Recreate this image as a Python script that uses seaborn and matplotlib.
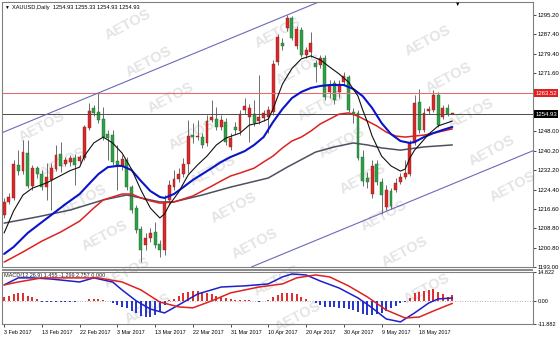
import matplotlib
matplotlib.use("Agg")
import numpy as np
import pandas as pd
import matplotlib.pyplot as plt
import matplotlib.transforms as mtransforms
from matplotlib.patches import Rectangle
import seaborn as sns

# ---------------- data ----------------
open_ = [1214.1, 1219.4, 1221.0, 1234.4, 1231.9, 1239.2, 1225.8, 1233.1, 1230.7, 1225.4,
         1228.3, 1232.7, 1238.8, 1234.8, 1235.6, 1237.2, 1236.0, 1237.2, 1249.4, 1257.5,
         1255.9, 1253.0, 1246.9, 1246.5, 1236.0, 1234.0, 1236.4, 1225.4, 1216.9, 1208.4,
         1201.9, 1204.8, 1207.2, 1202.3, 1199.9, 1220.2, 1225.4, 1228.7, 1230.7, 1234.8,
         1246.5, 1245.7, 1245.7, 1243.3, 1252.6, 1253.0, 1249.8, 1251.8, 1241.7, 1249.8,
         1248.2, 1256.7, 1253.8, 1255.0, 1252.2, 1253.4, 1253.8, 1255.9, 1276.1, 1283.8,
         1289.9, 1294.0, 1282.6, 1289.1, 1279.0, 1280.2, 1275.7, 1274.9, 1277.8, 1264.0,
         1267.6, 1264.0, 1268.0, 1270.0, 1255.9, 1255.5, 1237.6, 1229.1, 1222.6, 1234.8,
         1227.5, 1217.3, 1223.8, 1224.2, 1227.5, 1229.5, 1230.7, 1243.3, 1259.9, 1248.6,
         1256.3, 1256.7, 1262.8, 1253.8, 1257.5, 1254.93]
high = [1221.0, 1223.0, 1236.4, 1240.4, 1244.5, 1244.5, 1234.4, 1234.0, 1232.3, 1235.2,
        1235.2, 1242.5, 1243.7, 1237.6, 1238.4, 1238.8, 1238.4, 1250.6, 1259.5, 1258.7,
        1263.6, 1257.9, 1248.6, 1248.6, 1242.5, 1238.4, 1237.6, 1226.2, 1218.1, 1209.6,
        1206.8, 1208.8, 1211.2, 1203.9, 1222.2, 1228.3, 1232.3, 1233.1, 1237.2, 1252.6,
        1251.4, 1252.6, 1247.3, 1254.6, 1260.7, 1257.9, 1254.6, 1253.4, 1247.3, 1251.8,
        1256.7, 1261.5, 1259.1, 1260.7, 1270.9, 1256.7, 1258.3, 1276.9, 1287.5, 1285.9,
        1295.2, 1294.8, 1290.7, 1290.3, 1282.2, 1288.3, 1276.9, 1279.0, 1279.0, 1268.8,
        1268.8, 1268.8, 1272.1, 1270.9, 1257.5, 1256.7, 1240.4, 1231.5, 1236.4, 1236.4,
        1229.1, 1226.2, 1225.0, 1229.1, 1231.1, 1236.4, 1244.5, 1262.8, 1265.2, 1257.5,
        1258.3, 1264.8, 1264.0, 1258.7, 1259.1, 1255.33]
low = [1212.9, 1218.5, 1220.2, 1230.3, 1230.7, 1225.0, 1224.2, 1229.1, 1224.2, 1220.2,
       1216.1, 1231.9, 1231.5, 1234.0, 1234.0, 1226.2, 1235.2, 1236.4, 1248.6, 1254.2,
       1251.4, 1244.5, 1236.4, 1234.4, 1224.2, 1232.3, 1224.2, 1214.9, 1206.8, 1195.0,
       1199.9, 1203.1, 1200.7, 1197.0, 1197.9, 1218.1, 1224.2, 1227.5, 1229.5, 1231.1,
       1243.3, 1244.5, 1241.3, 1242.1, 1251.8, 1248.6, 1248.6, 1242.5, 1240.4, 1246.9,
       1246.5, 1255.0, 1243.7, 1250.2, 1251.0, 1252.2, 1247.3, 1254.6, 1274.9, 1281.0,
       1288.7, 1285.1, 1281.4, 1278.2, 1277.8, 1278.2, 1268.0, 1273.7, 1260.7, 1261.5,
       1259.1, 1261.5, 1266.8, 1255.9, 1251.4, 1236.4, 1225.8, 1225.0, 1221.0, 1226.2,
       1214.5, 1216.1, 1216.5, 1223.4, 1226.7, 1228.7, 1229.9, 1242.5, 1247.3, 1247.7,
       1255.0, 1255.9, 1249.8, 1253.0, 1254.2, 1254.93]
close = [1219.4, 1221.4, 1234.8, 1231.9, 1239.6, 1225.8, 1233.1, 1230.7, 1225.4, 1229.5,
         1233.1, 1238.4, 1234.0, 1236.4, 1237.2, 1234.4, 1237.6, 1249.8, 1256.3, 1255.5,
         1252.6, 1245.7, 1245.3, 1235.6, 1234.4, 1236.8, 1225.4, 1216.1, 1208.0, 1199.9,
         1204.8, 1206.8, 1201.9, 1199.9, 1218.9, 1226.2, 1228.7, 1230.7, 1234.8, 1246.1,
         1245.7, 1246.1, 1242.5, 1252.2, 1253.8, 1249.8, 1252.6, 1243.7, 1245.3, 1248.6,
         1255.0, 1258.3, 1257.5, 1251.4, 1253.8, 1255.5, 1256.7, 1275.3, 1286.3, 1282.6,
         1294.0, 1285.9, 1289.5, 1279.0, 1281.0, 1283.8, 1274.1, 1277.8, 1261.9, 1266.8,
         1260.7, 1267.2, 1270.5, 1256.7, 1254.6, 1237.2, 1227.9, 1227.5, 1234.0, 1227.5,
         1222.2, 1224.2, 1217.7, 1227.1, 1229.5, 1231.1, 1243.3, 1259.5, 1248.6, 1255.5,
         1257.1, 1262.8, 1250.6, 1257.5, 1254.93, 1254.93]

# moving averages (bar index, price)
ma_fast_bar = [0, 1, 2, 4, 6, 9, 11, 14, 16, 17, 19, 21, 23, 25, 27, 29, 31, 33, 34, 35,
               37, 39, 41, 43, 45, 47, 50, 52, 54, 56, 57, 59, 61, 63, 65, 67, 69, 71, 73, 75,
               76, 77, 78, 80, 82, 84, 85, 86, 87, 88, 90, 92, 95]
ma_fast_val = [1206.8, 1211.2, 1215.7, 1222.2, 1225.0, 1227.1, 1229.1, 1232.1, 1233.5, 1238.0,
               1243.3, 1245.7, 1243.3, 1239.2, 1232.7, 1224.2, 1216.9, 1212.9, 1214.5, 1218.1,
               1223.4, 1230.3, 1234.4, 1238.0, 1242.5, 1245.3, 1247.3, 1250.6, 1251.4, 1253.0,
               1257.1, 1267.2, 1273.5, 1277.4, 1278.6, 1277.0, 1274.1, 1271.3, 1268.0, 1262.3,
               1256.7, 1251.8, 1246.1, 1238.0, 1234.0, 1231.9, 1232.7, 1237.2, 1240.4, 1242.5,
               1246.9, 1250.2, 1252.2]
ma_mid_bar = [0, 2, 5, 8, 10, 13, 16, 18, 20, 22, 24, 25, 27, 29, 31, 33, 34, 36, 38, 40,
              42, 44, 46, 48, 51, 53, 55, 57, 59, 61, 63, 65, 67, 69, 72, 74, 76, 78, 80, 82,
              84, 86, 87, 89, 91, 93, 95]
ma_mid_val = [1198.3, 1201.1, 1206.8, 1211.2, 1214.1, 1218.5, 1222.6, 1226.7, 1230.7, 1233.5,
              1234.0, 1234.0, 1232.3, 1227.9, 1223.8, 1221.4, 1221.0, 1222.6, 1225.4, 1228.3,
              1230.7, 1233.1, 1235.6, 1237.6, 1240.0, 1242.5, 1245.7, 1251.8, 1257.1, 1261.5,
              1264.0, 1265.6, 1266.4, 1266.8, 1266.8, 1265.2, 1262.3, 1257.5, 1251.4, 1246.9,
              1244.1, 1243.3, 1243.7, 1245.7, 1247.3, 1248.6, 1249.8]
ma_slow_bar = [0, 4, 8, 12, 16, 19, 21, 23, 25, 27, 29, 31, 33, 36, 38, 40, 42, 44, 46, 48,
               50, 53, 55, 57, 59, 61, 63, 65, 67, 69, 71, 73, 75, 77, 79, 81, 83, 85, 87, 89,
               91, 95]
ma_slow_val = [1195.0, 1199.1, 1203.5, 1207.2, 1211.6, 1216.9, 1220.2, 1221.4, 1222.6, 1222.6,
               1221.0, 1219.8, 1218.9, 1219.4, 1220.6, 1221.8, 1223.8, 1225.8, 1227.9, 1229.9,
               1231.1, 1233.1, 1235.6, 1238.0, 1241.3, 1244.1, 1245.7, 1248.1, 1251.0, 1253.0,
               1255.0, 1255.5, 1254.2, 1252.2, 1250.2, 1247.7, 1246.1, 1245.7, 1246.1, 1246.5,
               1247.3, 1249.0]
ma_long_bar = [0, 7, 14, 21, 26, 29, 33, 36, 42, 48, 56, 60, 66, 70, 74, 77, 80, 84, 89, 95]
ma_long_val = [1210.8, 1213.3, 1216.1, 1220.2, 1222.2, 1221.0, 1219.4, 1219.4, 1222.2, 1225.4,
               1229.1, 1233.5, 1239.6, 1241.7, 1243.3, 1242.5, 1241.3, 1240.4, 1241.7, 1242.5]

# MACD panel
macd_bar = [0, 3, 6, 10, 16, 19, 23, 25, 28, 31, 34, 37, 41, 46, 51, 56, 59, 61, 64, 67,
            71, 75, 78, 81, 84, 87, 90, 92, 95]
macd_val = [8.2, 11.8, 11.8, 11.2, 9.7, 11.8, 9.7, 5.6, 0.0, -4.2, -6.2, -2.1, 3.5, 7.1, 7.7,
            8.7, 12.3, 13.8, 13.3, 10.2, 6.6, 1.5, -3.6, -9.3, -10.8, -6.2, -1.1, 1.0, 1.455]
signal_bar = [0, 3, 8, 14, 20, 25, 29, 33, 37, 40, 44, 48, 54, 59, 62, 66, 69, 73, 77, 81,
              85, 88, 91, 95]
signal_val = [8.2, 9.7, 11.8, 11.8, 11.8, 9.7, 5.6, -0.6, -3.1, -3.6, 0.0, 4.1, 7.1, 8.7,
              11.8, 13.3, 12.3, 7.7, 2.0, -4.7, -8.8, -8.3, -5.2, -1.299]
hist = [2.0, 2.5, 3.5, 4.1, 4.1, 2.5, 2.0, 1.0, -0.5, -0.5, -0.6, -0.6, -0.5, -0.4, -0.5, -0.4,
        -0.3, -0.2, 1.0, 1.0, 0.8, 0.5, -0.1, -1.1, -2.1, -3.1, -3.6, -5.2, -6.2, -7.8, -8.3,
        -8.3, -7.2, -5.2, -2.1, 0.5, 1.0, 2.5, 4.1, 4.6, 5.1, 5.1, 4.6, 4.1, 3.3, 2.5, 2.0,
        1.5, 1.0, 0.6, 0.5, 0.3, 0.2, -0.2, -0.4, -0.3, 0.3, 1.8, 3.0, 4.1, 4.1, 4.1, 3.5,
        2.0, 1.0, -0.2, -1.1, -2.1, -3.1, -3.1, -3.1, -3.6, -3.6, -4.2, -4.7, -5.7, -6.7,
        -7.2, -7.2, -6.7, -6.2, -5.2, -3.6, -2.6, -1.1, -0.6, 1.5, 4.1, 4.6, 5.1, 5.6, 6.1,
        4.6, 3.5, 2.0, 2.757]

date_labels = ["3 Feb 2017", "13 Feb 2017", "22 Feb 2017", "3 Mar 2017", "13 Mar 2017",
               "22 Mar 2017", "31 Mar 2017", "10 Apr 2017", "20 Apr 2017", "30 Apr 2017",
               "9 May 2017", "18 May 2017"]
label_step = 8
price_ticks = [1295.20, 1287.40, 1279.40, 1271.60, 1248.00, 1240.20, 1232.20, 1224.40,
               1216.60, 1208.80, 1200.80, 1193.00]
resistance_level = 1263.52
last_price = 1254.93
macd_ticks = [14.822, 0.0, -11.882]
macd_tick_labels = ["14.822", "0.00", "-11.882"]
channel_upper_bars = [20, 60]
channel_upper_prices = [1263.6, 1295.2]
channel_lower_bar = 80
channel_lower_price = 1214.8
header_text = "XAUUSD,Daily  1254.93 1255.33 1254.93 1254.93"
macd_text = "MACD(12,26,9) 1.455 -1.299 2.757 0.000"
watermark = "AETOS"

# ---------------- styling ----------------
sns.set_theme(style="white")
FONTS = ["Liberation Sans", "DejaVu Sans"]
plt.rcParams["font.family"] = FONTS

UP = "#d42a2a"
DOWN = "#2f9e48"
WICK = "#555555"
FRAME = "#808080"

W, H = 560, 339
fig = plt.figure(figsize=(W / 100, H / 100), dpi=100)
fig.patch.set_facecolor("white")


def box(x0, y0, x1, y1):
    return [x0 / W, 1 - y1 / H, (x1 - x0) / W, (y1 - y0) / H]


ax = fig.add_axes(box(2, 2, 533, 267))
ax2 = fig.add_axes(box(2, 272, 533, 324))
for a in (ax, ax2):
    a.set_facecolor("none")

# watermark lattice (behind everything), only whole words
for i_ in range(-9, 11):
    for j_ in range(-3, 5):
        px = 128 + 21.2 * i_ + 150 * j_
        py = 25 + 36.5 * i_ + 8 * j_
        if 32 < px < 528 and 20 < py < 318:
            fig.text(px / W, 1 - py / H, watermark, rotation=28, fontsize=10.5,
                     fontweight="bold", color="#e4e4e4", ha="center", va="center",
                     zorder=-5)

# ---------------- candles ----------------
bars = np.arange(len(open_))
o = np.array(open_)
c = np.array(close)
up = c >= o
body_bottom = np.minimum(o, c)
body_h = np.maximum(np.abs(c - o), 0.35)
colors = np.where(up, UP, DOWN)
edges = np.where(up, "#9e1a1a", "#1f7034")
ax.vlines(bars, low, high, color=WICK, lw=0.6, zorder=2)
ax.bar(bars, body_h, bottom=body_bottom, width=0.62, color=colors, edgecolor=edges,
       linewidth=0.3, zorder=2.2)

# horizontal levels and channel
ax.axhline(resistance_level, color="#e07070", lw=0.8, zorder=2.5)
ax.axhline(last_price, color="#4a4a4a", lw=0.7, zorder=2.5)
slope = (channel_upper_prices[1] - channel_upper_prices[0]) / (channel_upper_bars[1] - channel_upper_bars[0])
ax.axline((channel_upper_bars[0], channel_upper_prices[0]),
          (channel_upper_bars[1], channel_upper_prices[1]), color="#6a6ab8", lw=0.8, zorder=2.5)
ax.axline((channel_lower_bar, channel_lower_price), slope=slope, color="#6a6ab8", lw=0.8, zorder=2.5)


def draw_line(axis, xs, ys, color, lw):
    df = pd.DataFrame({"bar": xs, "value": ys})
    sns.lineplot(data=df, x="bar", y="value", ax=axis, color=color, linewidth=lw,
                 estimator=None, sort=False, legend=False, zorder=3)


draw_line(ax, ma_long_bar, ma_long_val, "#4e5060", 1.1)
draw_line(ax, ma_slow_bar, ma_slow_val, "#dd2222", 1.1)
draw_line(ax, ma_mid_bar, ma_mid_val, "#0a14c8", 1.5)
draw_line(ax, ma_fast_bar, ma_fast_val, "#111111", 0.8)

# ---------------- MACD ----------------
h = np.array(hist)
hcol = np.where(h >= 0, "#e02a2a", "#2233cc")
ax2.vlines(np.arange(len(h)), 0, h, colors=hcol, lw=1.4, zorder=2)
ax2.axhline(0, color="#9a9a9a", lw=0.6, ls=(0, (1, 2)), zorder=1)
draw_line(ax2, macd_bar, macd_val, "#1f1fcc", 1.1)
draw_line(ax2, signal_bar, signal_val, "#dd2222", 1.1)

# ---------------- axes cosmetics ----------------
for a in (ax, ax2):
    a.set_xlim(-0.45, 112.1)
    a.set_xlabel("")
    a.set_ylabel("")
    for s in a.spines.values():
        s.set_color(FRAME)
        s.set_linewidth(0.8)
        s.set_visible(True)

ax.set_ylim(1193.0, 1300.47)
ax2.set_ylim(-11.882, 14.822)

ax.set_xticks([])
ax.yaxis.tick_right()
ax.set_yticks(price_ticks)
ax.set_yticklabels([f"{v:.2f}" for v in price_ticks])
ax.tick_params(axis="y", which="both", right=True, left=False, labelright=True,
               labelleft=False, labelsize=4.3, length=2, width=0.5, pad=1.5,
               colors="black", direction="out")

ax2.yaxis.tick_right()
ax2.set_yticks(macd_ticks)
ax2.set_yticklabels(macd_tick_labels)
ax2.tick_params(axis="y", which="both", right=True, left=False, labelright=True,
                labelleft=False, labelsize=4.0, length=2, width=0.5, pad=1.5,
                colors="black", direction="out")
label_bars = np.arange(len(date_labels)) * label_step
ax2.set_xticks(label_bars)
ax2.set_xticklabels(date_labels, ha="left")
ax2.tick_params(axis="x", bottom=True, labelsize=3.9, length=2.5, width=0.5, pad=1.5,
                colors="black", direction="out")

# price boxes on the scale
trans = mtransforms.blended_transform_factory(ax.transAxes, ax.transData)
ax.text(1.004, resistance_level, f"{resistance_level:.2f}", transform=trans, ha="left",
        va="center", fontsize=4.3, color="white", clip_on=False, zorder=6,
        bbox=dict(boxstyle="square,pad=0.25", fc="#e02020", ec="none"))
ax.text(1.004, last_price, f"{last_price:.2f}", transform=trans, ha="left",
        va="center", fontsize=4.3, color="white", clip_on=False, zorder=6,
        bbox=dict(boxstyle="square,pad=0.25", fc="black", ec="none"))

# panel separator
fig.add_artist(Rectangle((2 / W, 1 - 270.5 / H), 531 / W, 2 / H, transform=fig.transFigure,
                         fc="#8c8c8c", ec="none"))

# header texts
fig.text(4 / W, 1 - 7.5 / H, "▼", fontsize=3.5, ha="left", va="center", color="black")
fig.text(12 / W, 1 - 7.5 / H, header_text, fontsize=4.1, ha="left", va="center", color="black")
fig.text(458 / W, 1 - 4 / H, "▼", fontsize=4, ha="center", va="center", color="black")
fig.text(4 / W, 1 - 275.5 / H, macd_text, fontsize=4.0, ha="left", va="center", color="#222222")

fig.savefig("out.png", dpi=100, facecolor="white")
